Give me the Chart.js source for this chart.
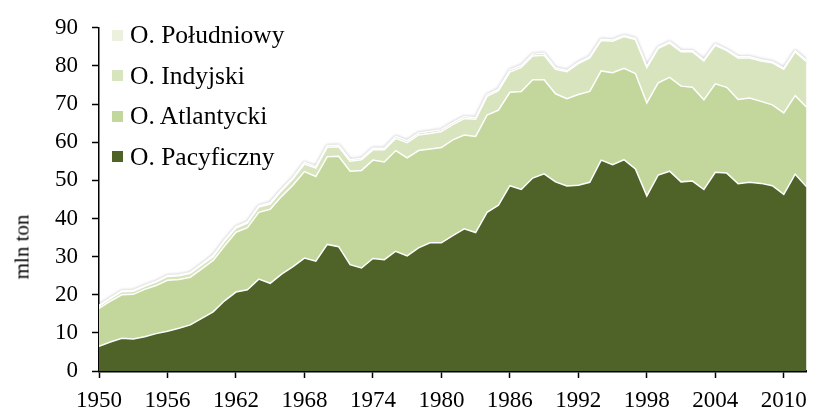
<!DOCTYPE html>
<html>
<head>
<meta charset="utf-8">
<script src="https://cdn.jsdelivr.net/npm/chart.js@4/dist/chart.umd.min.js"></script>
<style>
  body { margin: 0; background: #fff; }
  .wrap { position: relative; width: 816px; height: 410px; font-family: 'Liberation Serif', 'Times New Roman', serif; }
  .axis-title { position: absolute; left: 22px; top: 247px; transform: translate(-50%, -50%) rotate(-90deg); font-size: 21px; white-space: nowrap; color: #000; }
  .legend { position: absolute; left: 112px; top: 15px; }
  .legend-item { height: 40.5px; display: flex; align-items: center; font-size: 25.5px; color: #000; }
  .legend-color { width: 11px; height: 11px; margin-right: 7px; }
</style>
</head>
<body>
<div class="wrap">
  <canvas id="chart" width="816" height="410"></canvas>
  <div class="axis-title">mln ton</div>
  <div class="legend" id="legend"></div>
</div>
<script>
const years = [];
for (let y = 1950; y <= 2012; y++) years.push(y);

const yearTicks = [1950, 1956, 1962, 1968, 1974, 1980, 1986, 1992, 1998, 2004, 2010];
const valueTicks = [0, 10, 20, 30, 40, 50, 60, 70, 80, 90];

const oceanLabels = ['O. Pacyficzny', 'O. Atlantycki', 'O. Indyjski', 'O. Południowy'];
const oceanColors = ['#4F6228', '#C3D69B', '#D7E4BD', '#EBF1DE'];

const pacific = [
  6.5, 7.6, 8.6, 8.4, 9.0, 9.8, 10.4, 11.2, 12.1, 13.8,
  15.5, 18.4, 20.7, 21.3, 24.1, 23.0, 25.4, 27.4, 29.6, 28.8,
  33.2, 32.6, 27.9, 27.0, 29.5, 29.2, 31.4, 30.2, 32.3, 33.6,
  33.6, 35.5, 37.3, 36.3, 41.6, 43.5, 48.6, 47.6, 50.6, 51.7,
  49.6, 48.5, 48.7, 49.5, 55.3, 54.1, 55.4, 53.0, 45.9, 51.4,
  52.4, 49.6, 49.8, 47.6, 52.1, 51.9, 49.1, 49.5, 49.2, 48.6,
  46.3, 51.6, 48.3
];
const atlantic = [
  9.9, 10.7, 11.4, 11.7, 12.4, 12.6, 13.4, 12.8, 12.5, 13.0,
  13.5, 14.4, 15.7, 16.3, 17.5, 19.4, 20.4, 21.4, 22.7, 22.2,
  23.0, 23.7, 24.5, 25.6, 25.8, 25.6, 26.4, 25.7, 25.5, 24.6,
  25.0, 25.1, 24.6, 25.2, 25.5, 24.9, 24.5, 25.7, 25.8, 24.7,
  23.1, 22.9, 23.8, 23.8, 23.4, 24.1, 24.0, 25.0, 24.4, 24.2,
  24.6, 25.1, 24.6, 23.5, 23.2, 22.5, 22.1, 22.1, 21.5, 21.2,
  21.4, 20.6, 20.9
];
const indian = [
  0.6, 0.7, 0.8, 0.8, 0.8, 0.9, 1.0, 1.0, 1.0, 1.0,
  1.0, 1.2, 1.1, 1.2, 1.4, 1.4, 1.5, 1.6, 2.0, 2.2,
  2.5, 2.5, 2.6, 2.8, 2.7, 3.2, 3.2, 4.0, 4.1, 4.1,
  4.2, 4.0, 4.3, 4.5, 4.9, 5.1, 5.3, 6.3, 6.2, 6.4,
  6.4, 7.1, 8.1, 8.8, 8.0, 8.3, 8.3, 8.9, 9.3, 9.0,
  9.0, 9.0, 9.3, 10.2, 10.1, 9.6, 10.9, 10.5, 10.6, 11.0,
  11.4, 11.5, 11.9
];
const southern = [
  0.2, 0.2, 0.2, 0.2, 0.2, 0.2, 0.2, 0.2, 0.2, 0.2,
  0.3, 0.3, 0.3, 0.3, 0.3, 0.3, 0.3, 0.3, 0.4, 0.4,
  0.4, 0.4, 0.4, 0.4, 0.4, 0.4, 0.5, 0.5, 0.5, 0.5,
  0.5, 0.5, 0.5, 0.4, 0.4, 0.4, 0.5, 0.5, 0.5, 0.5,
  0.4, 0.3, 0.3, 0.3, 0.3, 0.3, 0.3, 0.3, 0.3, 0.3,
  0.3, 0.3, 0.3, 0.3, 0.3, 0.3, 0.3, 0.3, 0.3, 0.3,
  0.3, 0.3, 0.3
];

const seriesValues = [pacific, atlantic, indian, southern];

const toPoints = (arr) => arr.map((v, i) => ({ x: years[i], y: v }));

const datasets = seriesValues.map((vals, i) => ({
  label: oceanLabels[i],
  data: toPoints(vals),
  backgroundColor: oceanColors[i],
  borderColor: '#FFFFFF',
  borderWidth: 1.5,
  pointRadius: 0,
  tension: 0,
  fill: i === 0 ? 'origin' : '-1',
}));

// html legend, reversed order like the original
const legendEl = document.getElementById('legend');
for (let i = oceanLabels.length - 1; i >= 0; i--) {
  const item = document.createElement('div');
  item.className = 'legend-item';
  item.innerHTML = `<span class="legend-color" style="background-color: ${oceanColors[i]};"></span>${oceanLabels[i]}`;
  legendEl.appendChild(item);
}

// soft grey glow along the top outline
const topGlow = {
  id: 'topGlow',
  beforeDatasetDraw(chart, args) {
    if (args.index !== seriesValues.length - 1) return;
    const ctx = chart.ctx;
    ctx.save();
    ctx.shadowColor = 'rgba(0, 0, 0, 0.35)';
    ctx.shadowBlur = 3;
  },
  afterDatasetDraw(chart, args) {
    if (args.index !== seriesValues.length - 1) return;
    chart.ctx.restore();
  },
};

const tickFont = { family: "'Liberation Serif', 'Times New Roman', serif", size: 23 };

new Chart(document.getElementById('chart').getContext('2d'), {
  type: 'line',
  data: { datasets },
  options: {
    responsive: false,
    animation: false,
    devicePixelRatio: 1,
    layout: { padding: { top: 22, right: 7, left: 0, bottom: 0 } },
    plugins: {
      legend: { display: false },
      tooltip: { enabled: false },
    },
    scales: {
      x: {
        type: 'linear',
        min: 1950,
        max: 2012,
        afterBuildTicks: (scale) => { scale.ticks = yearTicks.map(v => ({ value: v })); },
        afterFit: (scale) => { scale.height = 39; },
        grid: { drawOnChartArea: false, tickLength: 7, tickColor: '#000', tickWidth: 1.5 },
        border: { color: '#000', width: 2.5 },
        ticks: { font: tickFont, color: '#000', padding: 9, maxRotation: 0, autoSkip: false, callback: (v) => String(v) },
      },
      y: {
        stacked: true,
        min: 0,
        max: 90,
        afterBuildTicks: (scale) => { scale.ticks = valueTicks.map(v => ({ value: v })); },
        afterFit: (scale) => { scale.width = 99; },
        grid: { drawOnChartArea: false, tickLength: 7, tickColor: '#000', tickWidth: 1.5 },
        border: { color: '#000', width: 1.5 },
        ticks: { font: tickFont, color: '#000', padding: 14 },
      },
    },
  },
  plugins: [topGlow],
});
</script>
</body>
</html>
